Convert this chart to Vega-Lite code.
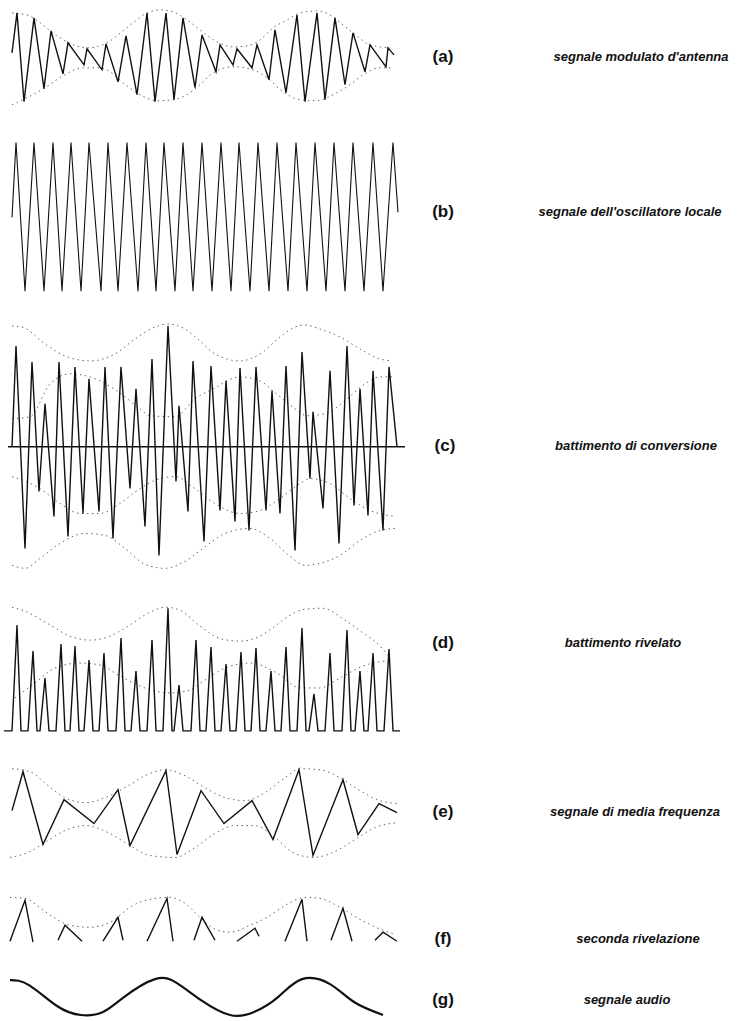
{
  "$schema": "https://vega.github.io/schema/vega-lite/v6.json",
  "autosize": {"type": "fit", "contains": "padding"},
  "width": 746,
  "height": 1021,
  "padding": 0,
  "background": "white",
  "config": {"view": {"stroke": null}},
  "datasets": {
    "wave": [
      {"s":"a","x":12,"y":53},{"s":"a","x":17,"y":13},{"s":"a","x":24,"y":102},{"s":"a","x":34,"y":18},{"s":"a","x":44,"y":89},{"s":"a","x":51,"y":31},{"s":"a","x":63,"y":74},{"s":"a","x":68,"y":43},{"s":"a","x":84,"y":65},{"s":"a","x":87,"y":49},{"s":"a","x":102,"y":70},{"s":"a","x":106,"y":44},{"s":"a","x":118,"y":82},{"s":"a","x":126,"y":36},{"s":"a","x":137,"y":95},{"s":"a","x":147,"y":13},{"s":"a","x":155,"y":102},{"s":"a","x":166,"y":13},{"s":"a","x":174,"y":100},{"s":"a","x":183,"y":18},{"s":"a","x":195,"y":88},{"s":"a","x":202,"y":35},{"s":"a","x":216,"y":72},{"s":"a","x":220,"y":45},{"s":"a","x":233,"y":65},{"s":"a","x":237,"y":49},{"s":"a","x":252,"y":68},{"s":"a","x":257,"y":45},{"s":"a","x":269,"y":80},{"s":"a","x":275,"y":30},{"s":"a","x":286,"y":93},{"s":"a","x":297,"y":15},{"s":"a","x":305,"y":102},{"s":"a","x":317,"y":13},{"s":"a","x":325,"y":100},{"s":"a","x":335,"y":18},{"s":"a","x":345,"y":85},{"s":"a","x":353,"y":33},{"s":"a","x":365,"y":72},{"s":"a","x":370,"y":45},{"s":"a","x":386,"y":67},{"s":"a","x":388,"y":48},{"s":"a","x":394,"y":55},

      {"s":"caxis","x":8,"y":448},{"s":"caxis","x":405,"y":448},
      {"s":"c","x":12,"y":448},{"s":"c","x":16,"y":347},{"s":"c","x":25,"y":550},{"s":"c","x":32,"y":363},{"s":"c","x":39,"y":493},{"s":"c","x":45,"y":405},{"s":"c","x":54,"y":518},{"s":"c","x":59,"y":363},{"s":"c","x":68,"y":538},{"s":"c","x":75,"y":368},{"s":"c","x":83,"y":515},{"s":"c","x":89,"y":380},{"s":"c","x":99,"y":513},{"s":"c","x":105,"y":368},{"s":"c","x":113,"y":540},{"s":"c","x":121,"y":368},{"s":"c","x":130,"y":490},{"s":"c","x":136,"y":390},{"s":"c","x":145,"y":528},{"s":"c","x":152,"y":360},{"s":"c","x":159,"y":557},{"s":"c","x":168,"y":327},{"s":"c","x":176,"y":483},{"s":"c","x":179,"y":407},{"s":"c","x":188,"y":513},{"s":"c","x":193,"y":362},{"s":"c","x":204,"y":543},{"s":"c","x":211,"y":367},{"s":"c","x":220,"y":512},{"s":"c","x":226,"y":382},{"s":"c","x":235,"y":523},{"s":"c","x":240,"y":369},{"s":"c","x":249,"y":532},{"s":"c","x":256,"y":368},{"s":"c","x":266,"y":512},{"s":"c","x":272,"y":392},{"s":"c","x":280,"y":515},{"s":"c","x":286,"y":367},{"s":"c","x":295,"y":552},{"s":"c","x":302,"y":353},{"s":"c","x":310,"y":480},{"s":"c","x":313,"y":413},{"s":"c","x":323,"y":510},{"s":"c","x":330,"y":372},{"s":"c","x":339,"y":545},{"s":"c","x":347,"y":347},{"s":"c","x":354,"y":507},{"s":"c","x":360,"y":390},{"s":"c","x":368,"y":517},{"s":"c","x":373,"y":372},{"s":"c","x":383,"y":532},{"s":"c","x":389,"y":368},{"s":"c","x":397,"y":448},

      {"s":"d","x":4,"y":733},
      {"s":"d","x":12,"y":733},{"s":"d","x":17,"y":627},{"s":"d","x":21,"y":733},
      {"s":"d","x":28,"y":733},{"s":"d","x":33,"y":653},{"s":"d","x":37,"y":733},
      {"s":"d","x":40,"y":733},{"s":"d","x":45,"y":680},{"s":"d","x":49,"y":733},
      {"s":"d","x":56,"y":733},{"s":"d","x":61,"y":646},{"s":"d","x":65,"y":733},
      {"s":"d","x":70,"y":733},{"s":"d","x":75,"y":648},{"s":"d","x":79,"y":733},
      {"s":"d","x":84,"y":733},{"s":"d","x":89,"y":662},{"s":"d","x":93,"y":733},
      {"s":"d","x":99,"y":733},{"s":"d","x":104,"y":655},{"s":"d","x":108,"y":733},
      {"s":"d","x":116,"y":733},{"s":"d","x":121,"y":640},{"s":"d","x":125,"y":733},
      {"s":"d","x":131,"y":733},{"s":"d","x":136,"y":673},{"s":"d","x":140,"y":733},
      {"s":"d","x":147,"y":733},{"s":"d","x":152,"y":642},{"s":"d","x":156,"y":733},
      {"s":"d","x":163,"y":733},{"s":"d","x":168,"y":610},{"s":"d","x":172,"y":733},
      {"s":"d","x":174,"y":733},{"s":"d","x":179,"y":687},{"s":"d","x":183,"y":733},
      {"s":"d","x":191,"y":733},{"s":"d","x":196,"y":642},{"s":"d","x":200,"y":733},
      {"s":"d","x":206,"y":733},{"s":"d","x":211,"y":649},{"s":"d","x":215,"y":733},
      {"s":"d","x":221,"y":733},{"s":"d","x":226,"y":666},{"s":"d","x":230,"y":733},
      {"s":"d","x":236,"y":733},{"s":"d","x":241,"y":654},{"s":"d","x":245,"y":733},
      {"s":"d","x":251,"y":733},{"s":"d","x":256,"y":650},{"s":"d","x":260,"y":733},
      {"s":"d","x":266,"y":733},{"s":"d","x":271,"y":673},{"s":"d","x":275,"y":733},
      {"s":"d","x":281,"y":733},{"s":"d","x":286,"y":649},{"s":"d","x":290,"y":733},
      {"s":"d","x":297,"y":733},{"s":"d","x":302,"y":630},{"s":"d","x":306,"y":733},
      {"s":"d","x":309,"y":733},{"s":"d","x":314,"y":696},{"s":"d","x":318,"y":733},
      {"s":"d","x":325,"y":733},{"s":"d","x":330,"y":655},{"s":"d","x":334,"y":733},
      {"s":"d","x":342,"y":733},{"s":"d","x":347,"y":632},{"s":"d","x":351,"y":733},
      {"s":"d","x":355,"y":733},{"s":"d","x":360,"y":673},{"s":"d","x":364,"y":733},
      {"s":"d","x":368,"y":733},{"s":"d","x":373,"y":655},{"s":"d","x":377,"y":733},
      {"s":"d","x":384,"y":733},{"s":"d","x":389,"y":651},{"s":"d","x":393,"y":733},
      {"s":"d","x":400,"y":733},

      {"s":"e","x":12,"y":813},{"s":"e","x":23,"y":774},{"s":"e","x":43,"y":847},{"s":"e","x":64,"y":802},{"s":"e","x":94,"y":826},{"s":"e","x":118,"y":792},{"s":"e","x":130,"y":848},{"s":"e","x":166,"y":773},{"s":"e","x":177,"y":857},{"s":"e","x":201,"y":793},{"s":"e","x":224,"y":826},{"s":"e","x":252,"y":803},{"s":"e","x":273,"y":842},{"s":"e","x":299,"y":772},{"s":"e","x":313,"y":858},{"s":"e","x":343,"y":782},{"s":"e","x":358,"y":837},{"s":"e","x":379,"y":806},{"s":"e","x":397,"y":815},

      {"s":"f1","x":10,"y":944},{"s":"f1","x":25,"y":903},{"s":"f1","x":33,"y":945},
      {"s":"f2","x":58,"y":943},{"s":"f2","x":65,"y":928},{"s":"f2","x":82,"y":944},
      {"s":"f3","x":103,"y":944},{"s":"f3","x":118,"y":920},{"s":"f3","x":123,"y":943},
      {"s":"f4","x":147,"y":944},{"s":"f4","x":167,"y":901},{"s":"f4","x":173,"y":944},
      {"s":"f5","x":194,"y":943},{"s":"f5","x":202,"y":920},{"s":"f5","x":215,"y":943},
      {"s":"f6","x":237,"y":944},{"s":"f6","x":255,"y":931},{"s":"f6","x":259,"y":939},
      {"s":"f7","x":285,"y":944},{"s":"f7","x":302,"y":902},{"s":"f7","x":307,"y":944},
      {"s":"f8","x":331,"y":943},{"s":"f8","x":343,"y":911},{"s":"f8","x":352,"y":944},
      {"s":"f9","x":375,"y":943},{"s":"f9","x":383,"y":935},{"s":"f9","x":397,"y":944}
    ],
    "osc": [
      {"x":12,"y":218},{"x":16,"y":143},{"x":25,"y":292},{"x":34,"y":143},{"x":44,"y":292},{"x":53,"y":143},{"x":62,"y":292},{"x":71,"y":143},{"x":81,"y":292},{"x":89,"y":143},{"x":101,"y":292},{"x":108,"y":143},{"x":118,"y":292},{"x":127,"y":143},{"x":138,"y":292},{"x":146,"y":143},{"x":156,"y":292},{"x":164,"y":143},{"x":175,"y":292},{"x":183,"y":143},{"x":193,"y":292},{"x":202,"y":143},{"x":212,"y":292},{"x":221,"y":143},{"x":231,"y":292},{"x":239,"y":143},{"x":250,"y":292},{"x":258,"y":143},{"x":269,"y":292},{"x":277,"y":143},{"x":288,"y":292},{"x":296,"y":143},{"x":307,"y":292},{"x":315,"y":143},{"x":326,"y":292},{"x":334,"y":143},{"x":345,"y":292},{"x":353,"y":143},{"x":364,"y":292},{"x":373,"y":143},{"x":383,"y":292},{"x":393,"y":143},{"x":398,"y":213}
    ],
    "audio": [
      {"x":10,"y":983},{"x":29,"y":988},{"x":57,"y":1009},{"x":81,"y":1018},{"x":103,"y":1015},{"x":124,"y":1000},{"x":155,"y":982},{"x":177,"y":986},{"x":201,"y":1003},{"x":230,"y":1018},{"x":254,"y":1015},{"x":278,"y":1000},{"x":302,"y":982},{"x":330,"y":987},{"x":354,"y":1005},{"x":383,"y":1018}
    ],
    "env": [
      {"s":"ae1","x":12,"y":13},{"s":"ae1","x":27,"y":15},{"s":"ae1","x":53,"y":33},{"s":"ae1","x":67,"y":42},{"s":"ae1","x":87,"y":48},{"s":"ae1","x":107,"y":43},{"s":"ae1","x":118,"y":35},{"s":"ae1","x":133,"y":23},{"s":"ae1","x":147,"y":13},{"s":"ae1","x":160,"y":10},{"s":"ae1","x":173,"y":12},{"s":"ae1","x":187,"y":20},{"s":"ae1","x":200,"y":30},{"s":"ae1","x":217,"y":42},{"s":"ae1","x":233,"y":47},{"s":"ae1","x":247,"y":46},{"s":"ae1","x":260,"y":40},{"s":"ae1","x":273,"y":28},{"s":"ae1","x":287,"y":20},{"s":"ae1","x":300,"y":13},{"s":"ae1","x":317,"y":11},{"s":"ae1","x":330,"y":15},{"s":"ae1","x":343,"y":25},{"s":"ae1","x":358,"y":37},{"s":"ae1","x":370,"y":45},{"s":"ae1","x":390,"y":48},
      {"s":"ae2","x":12,"y":105},{"s":"ae2","x":27,"y":98},{"s":"ae2","x":45,"y":88},{"s":"ae2","x":63,"y":76},{"s":"ae2","x":83,"y":68},{"s":"ae2","x":100,"y":68},{"s":"ae2","x":110,"y":72},{"s":"ae2","x":123,"y":83},{"s":"ae2","x":140,"y":95},{"s":"ae2","x":157,"y":101},{"s":"ae2","x":173,"y":100},{"s":"ae2","x":187,"y":95},{"s":"ae2","x":200,"y":85},{"s":"ae2","x":213,"y":73},{"s":"ae2","x":233,"y":67},{"s":"ae2","x":253,"y":70},{"s":"ae2","x":267,"y":78},{"s":"ae2","x":283,"y":92},{"s":"ae2","x":300,"y":100},{"s":"ae2","x":317,"y":101},{"s":"ae2","x":333,"y":95},{"s":"ae2","x":350,"y":85},{"s":"ae2","x":363,"y":75},{"s":"ae2","x":380,"y":68},{"s":"ae2","x":393,"y":68},

      {"s":"ce1","x":12,"y":327},{"s":"ce1","x":22,"y":328},{"s":"ce1","x":45,"y":345},{"s":"ce1","x":65,"y":357},{"s":"ce1","x":90,"y":362},{"s":"ce1","x":115,"y":355},{"s":"ce1","x":135,"y":340},{"s":"ce1","x":155,"y":328},{"s":"ce1","x":168,"y":325},{"s":"ce1","x":185,"y":330},{"s":"ce1","x":200,"y":342},{"s":"ce1","x":215,"y":355},{"s":"ce1","x":240,"y":362},{"s":"ce1","x":260,"y":355},{"s":"ce1","x":280,"y":338},{"s":"ce1","x":295,"y":328},{"s":"ce1","x":305,"y":326},{"s":"ce1","x":320,"y":330},{"s":"ce1","x":340,"y":338},{"s":"ce1","x":360,"y":350},{"s":"ce1","x":380,"y":360},{"s":"ce1","x":392,"y":362},
      {"s":"ce2","x":12,"y":420},{"s":"ce2","x":30,"y":418},{"s":"ce2","x":50,"y":385},{"s":"ce2","x":70,"y":375},{"s":"ce2","x":90,"y":378},{"s":"ce2","x":117,"y":392},{"s":"ce2","x":140,"y":410},{"s":"ce2","x":150,"y":417},{"s":"ce2","x":175,"y":418},{"s":"ce2","x":195,"y":400},{"s":"ce2","x":213,"y":390},{"s":"ce2","x":240,"y":378},{"s":"ce2","x":260,"y":382},{"s":"ce2","x":273,"y":392},{"s":"ce2","x":295,"y":410},{"s":"ce2","x":307,"y":417},{"s":"ce2","x":325,"y":415},{"s":"ce2","x":347,"y":400},{"s":"ce2","x":365,"y":385},{"s":"ce2","x":380,"y":378},{"s":"ce2","x":395,"y":378},
      {"s":"ce3","x":12,"y":478},{"s":"ce3","x":40,"y":490},{"s":"ce3","x":60,"y":505},{"s":"ce3","x":80,"y":515},{"s":"ce3","x":100,"y":515},{"s":"ce3","x":120,"y":505},{"s":"ce3","x":140,"y":490},{"s":"ce3","x":160,"y":480},{"s":"ce3","x":175,"y":478},{"s":"ce3","x":195,"y":490},{"s":"ce3","x":215,"y":505},{"s":"ce3","x":240,"y":515},{"s":"ce3","x":260,"y":512},{"s":"ce3","x":280,"y":500},{"s":"ce3","x":300,"y":485},{"s":"ce3","x":310,"y":480},{"s":"ce3","x":330,"y":485},{"s":"ce3","x":350,"y":500},{"s":"ce3","x":370,"y":512},{"s":"ce3","x":395,"y":518},
      {"s":"ce4","x":12,"y":567},{"s":"ce4","x":25,"y":570},{"s":"ce4","x":40,"y":560},{"s":"ce4","x":60,"y":545},{"s":"ce4","x":85,"y":535},{"s":"ce4","x":105,"y":537},{"s":"ce4","x":125,"y":550},{"s":"ce4","x":145,"y":566},{"s":"ce4","x":165,"y":570},{"s":"ce4","x":185,"y":563},{"s":"ce4","x":203,"y":550},{"s":"ce4","x":225,"y":535},{"s":"ce4","x":250,"y":530},{"s":"ce4","x":270,"y":540},{"s":"ce4","x":290,"y":558},{"s":"ce4","x":305,"y":567},{"s":"ce4","x":320,"y":565},{"s":"ce4","x":340,"y":557},{"s":"ce4","x":360,"y":542},{"s":"ce4","x":380,"y":532},{"s":"ce4","x":395,"y":530},

      {"s":"de1","x":12,"y":609},{"s":"de1","x":25,"y":613},{"s":"de1","x":47,"y":625},{"s":"de1","x":70,"y":638},{"s":"de1","x":90,"y":642},{"s":"de1","x":110,"y":638},{"s":"de1","x":125,"y":630},{"s":"de1","x":150,"y":614},{"s":"de1","x":165,"y":609},{"s":"de1","x":180,"y":612},{"s":"de1","x":200,"y":628},{"s":"de1","x":222,"y":641},{"s":"de1","x":240,"y":643},{"s":"de1","x":260,"y":638},{"s":"de1","x":275,"y":628},{"s":"de1","x":290,"y":617},{"s":"de1","x":305,"y":611},{"s":"de1","x":322,"y":610},{"s":"de1","x":345,"y":622},{"s":"de1","x":362,"y":634},{"s":"de1","x":380,"y":648},{"s":"de1","x":390,"y":660},
      {"s":"de2","x":15,"y":700},{"s":"de2","x":35,"y":685},{"s":"de2","x":55,"y":670},{"s":"de2","x":80,"y":665},{"s":"de2","x":100,"y":667},{"s":"de2","x":120,"y":678},{"s":"de2","x":145,"y":690},{"s":"de2","x":170,"y":695},{"s":"de2","x":187,"y":693},{"s":"de2","x":205,"y":682},{"s":"de2","x":225,"y":670},{"s":"de2","x":250,"y":665},{"s":"de2","x":277,"y":675},{"s":"de2","x":300,"y":690},{"s":"de2","x":320,"y":690},{"s":"de2","x":340,"y":680},{"s":"de2","x":363,"y":668},{"s":"de2","x":385,"y":663},

      {"s":"ee1","x":12,"y":771},{"s":"ee1","x":30,"y":774},{"s":"ee1","x":47,"y":787},{"s":"ee1","x":65,"y":800},{"s":"ee1","x":85,"y":805},{"s":"ee1","x":105,"y":800},{"s":"ee1","x":125,"y":790},{"s":"ee1","x":145,"y":778},{"s":"ee1","x":165,"y":772},{"s":"ee1","x":185,"y":778},{"s":"ee1","x":205,"y":790},{"s":"ee1","x":225,"y":800},{"s":"ee1","x":245,"y":803},{"s":"ee1","x":265,"y":795},{"s":"ee1","x":285,"y":780},{"s":"ee1","x":300,"y":771},{"s":"ee1","x":320,"y":772},{"s":"ee1","x":340,"y":780},{"s":"ee1","x":360,"y":793},{"s":"ee1","x":380,"y":803},{"s":"ee1","x":397,"y":806},
      {"s":"ee2","x":10,"y":860},{"s":"ee2","x":28,"y":855},{"s":"ee2","x":45,"y":845},{"s":"ee2","x":65,"y":833},{"s":"ee2","x":85,"y":828},{"s":"ee2","x":110,"y":836},{"s":"ee2","x":130,"y":848},{"s":"ee2","x":150,"y":858},{"s":"ee2","x":175,"y":860},{"s":"ee2","x":195,"y":850},{"s":"ee2","x":215,"y":836},{"s":"ee2","x":235,"y":828},{"s":"ee2","x":255,"y":828},{"s":"ee2","x":275,"y":840},{"s":"ee2","x":293,"y":855},{"s":"ee2","x":313,"y":860},{"s":"ee2","x":333,"y":855},{"s":"ee2","x":355,"y":842},{"s":"ee2","x":375,"y":830},{"s":"ee2","x":397,"y":825},

      {"s":"fe1","x":10,"y":900},{"s":"fe1","x":25,"y":901},{"s":"fe1","x":42,"y":912},{"s":"fe1","x":55,"y":921},{"s":"fe1","x":70,"y":928},{"s":"fe1","x":90,"y":930},{"s":"fe1","x":110,"y":925},{"s":"fe1","x":133,"y":908},{"s":"fe1","x":150,"y":902},{"s":"fe1","x":170,"y":900},{"s":"fe1","x":185,"y":906},{"s":"fe1","x":200,"y":920},{"s":"fe1","x":215,"y":932},{"s":"fe1","x":230,"y":935},{"s":"fe1","x":250,"y":928},{"s":"fe1","x":267,"y":920},{"s":"fe1","x":287,"y":907},{"s":"fe1","x":305,"y":900},{"s":"fe1","x":320,"y":901},{"s":"fe1","x":340,"y":910},{"s":"fe1","x":360,"y":922},{"s":"fe1","x":383,"y":933},{"s":"fe1","x":395,"y":937}
    ],
    "tags": [
      {"t":"(a)","x":443,"y":57},
      {"t":"(b)","x":443,"y":213},
      {"t":"(c)","x":445,"y":447},
      {"t":"(d)","x":443,"y":645},
      {"t":"(e)","x":443,"y":814},
      {"t":"(f)","x":443,"y":942},
      {"t":"(g)","x":443,"y":1003}
    ],
    "captions": [
      {"t":"segnale modulato d'antenna","x":641,"y":57},
      {"t":"segnale dell'oscillatore locale","x":630,"y":213},
      {"t":"battimento di conversione","x":636,"y":447},
      {"t":"battimento rivelato","x":623,"y":645},
      {"t":"segnale di media frequenza","x":635,"y":814},
      {"t":"seconda rivelazione","x":638,"y":942},
      {"t":"segnale audio","x":627,"y":1003}
    ]
  },
  "encoding": {
    "x": {"field": "x", "type": "quantitative", "scale": {"domain": [0, 746], "nice": false, "zero": false}, "axis": null},
    "y": {"field": "y", "type": "quantitative", "scale": {"domain": [0, 1021], "nice": false, "zero": false, "reverse": true}, "axis": null}
  },
  "layer": [
    {
      "data": {"name": "env"},
      "mark": {"type": "line", "stroke": "#666", "strokeWidth": 1, "strokeDash": [1.5, 3.5], "interpolate": "monotone"},
      "encoding": {"detail": {"field": "s"}}
    },
    {
      "data": {"name": "wave"},
      "mark": {"type": "line", "stroke": "#111", "strokeWidth": 1.4, "strokeJoin": "miter"},
      "encoding": {"detail": {"field": "s"}}
    },
    {
      "data": {"name": "osc"},
      "mark": {"type": "line", "stroke": "#111", "strokeWidth": 1.1},
      "encoding": {}
    },
    {
      "data": {"name": "audio"},
      "mark": {"type": "line", "stroke": "#111", "strokeWidth": 2.2, "interpolate": "natural"},
      "encoding": {}
    },
    {
      "data": {"name": "tags"},
      "mark": {"type": "text", "font": "Liberation Sans", "fontSize": 17, "fontWeight": "bold", "align": "center", "baseline": "middle", "color": "#111"},
      "encoding": {"text": {"field": "t"}}
    },
    {
      "data": {"name": "captions"},
      "mark": {"type": "text", "font": "Liberation Sans", "fontSize": 13, "fontWeight": "bold", "fontStyle": "italic", "align": "center", "baseline": "middle", "color": "#111"},
      "encoding": {"text": {"field": "t"}}
    }
  ]
}
